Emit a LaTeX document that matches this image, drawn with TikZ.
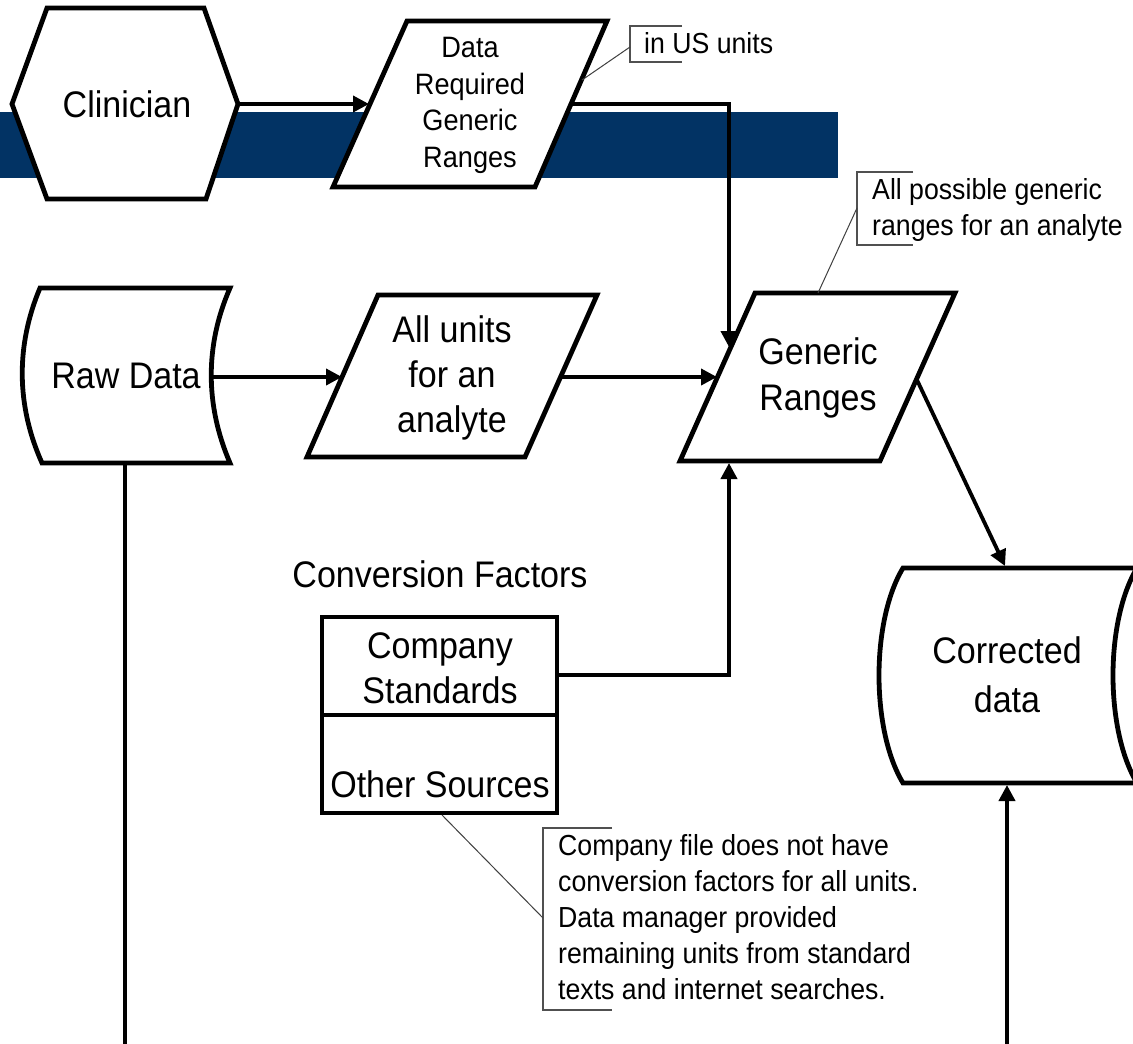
\documentclass[tikz,border=0pt]{standalone}
\usepackage{fontspec}
\setmainfont{Liberation Sans}[FakeStretch=0.92]
\usetikzlibrary{arrows.meta}
\definecolor{barblue}{RGB}{2,51,100}
\definecolor{callgray}{RGB}{80,80,80}
\tikzset{
  shp/.style={draw=black, fill=white, line width=4.8pt, line join=miter},
  conn/.style={draw=black, line width=3.8pt},
  arr/.style={conn, -{Triangle[length=16pt,width=16pt]}},
  big/.style={font=\fontsize{37}{46}\selectfont, align=center, inner sep=0pt, anchor=base},
  mid/.style={font=\fontsize{29.5}{36.5}\selectfont, align=center, inner sep=0pt, anchor=base},
  note/.style={font=\fontsize{29}{35.5}\selectfont, align=left, inner sep=0pt, anchor=base west},
  bracket/.style={draw=callgray, line width=1.2pt},
  leader/.style={draw=black!75, line width=1pt}
}
\begin{document}
\begin{tikzpicture}[x=1pt,y=-1pt]
\useasboundingbox (0,0) rectangle (1133,1044);
\fill[white] (0,0) rectangle (1133,1044);
% blue band
\fill[barblue] (0,112) rectangle (838,178);

% shapes
\draw[shp] (12,104) -- (47,8) -- (204,8) -- (238,104) -- (206,199) -- (47,199) -- cycle;
\draw[shp] (407,21) -- (607,21) -- (535,187) -- (333,187) -- cycle;
\draw[shp] (378,295) -- (597,295) -- (525,457) -- (307,457) -- cycle;
\draw[shp] (755,293) -- (955,293) -- (880,461) -- (680,461) -- cycle;
\draw[shp] (40,288) -- (230,288) .. controls (205,345) and (205,405) .. (230,463)
   -- (42,463) .. controls (16,405) and (16,345) .. (40,288) -- cycle;
\draw[shp] (903,568) -- (1137,568) .. controls (1105,621) and (1105,730) .. (1137,783)
   -- (903,783) .. controls (871,730) and (871,621) .. (903,568) -- cycle;
\draw[shp] (322,617) rectangle (557,813);
\draw[shp] (322,715) -- (557,715);

% labels (base anchor = baseline of the last line)
\node[big] (clin) at (127,117) {Clinician};
\node[mid] (dreq) at (470,167) {Data\\Required\\Generic\\Ranges};
\node[big] (raw) at (126,388) {Raw Data};
\node[big, font=\fontsize{37}{45}\selectfont] (units) at (452,432) {All units\\for an\\analyte};
\node[big] (gen) at (818,410) {Generic\\Ranges};
\node[big] (convt) at (440,587) {Conversion Factors};
\node[big, font=\fontsize{37}{45}\selectfont] (comp) at (440,703) {Company\\Standards};
\node[big] (other) at (440,797) {Other Sources};
\node[big, font=\fontsize{37}{49}\selectfont] (corr) at (1007,712) {Corrected\\data};

% connector end points
\coordinate (clinR) at (238,104);
\coordinate (dreqL) at (369,104);
\coordinate (dreqR) at (571,104);
\coordinate (bendA) at (729,104);
\coordinate (genT) at (729,347);
\coordinate (rawR) at (211,377);
\coordinate (unitsL) at (342,377);
\coordinate (unitsR) at (561,377);
\coordinate (genL) at (717,377);
\coordinate (compR) at (557,675);
\coordinate (bendB) at (729,675);
\coordinate (genB) at (729,463);
\coordinate (genR) at (917,380);
\coordinate (corrT) at (1005,566);
\coordinate (corrB) at (1007,785);
\coordinate (bottomR) at (1007,1044);
\coordinate (rawB) at (125,463);
\coordinate (bottomL) at (125,1044);

% connectors
\draw[arr] (clinR) -- (dreqL);
\draw[arr] (dreqR) -- (bendA) -- (genT);
\draw[arr] (rawR) -- (unitsL);
\draw[arr] (unitsR) -- (genL);
\draw[arr] (compR) -- (bendB) -- (genB);
\draw[arr] (genR) -- (corrT);
\draw[arr] (bottomR) -- (corrB);
\draw[conn] (rawB) -- (bottomL);

% callouts
\node[note] (us) at (644,53) {in US units};
\draw[bracket] (682,26) -- (630,26) -- (630,62) -- (682,62);
\coordinate (usL) at (630,47);
\coordinate (dreqE) at (582,80);
\draw[leader] (usL) -- (dreqE);

\node[note] (allposs) at (872,235) {All possible generic\\ranges for an analyte};
\draw[bracket] (913,172) -- (857,172) -- (857,245) -- (913,245);
\coordinate (apL) at (857,208);
\coordinate (genE) at (818,293);
\draw[leader] (apL) -- (genE);

\node[note, font=\fontsize{29}{36}\selectfont] (cnote) at (558,999) {Company file does not have\\conversion factors for all units.\\Data manager provided\\remaining units from standard\\texts and internet searches.};
\draw[bracket] (612,828) -- (543,828) -- (543,1010) -- (612,1010);
\coordinate (cnL) at (543,918);
\coordinate (otherE) at (442,815);
\draw[leader] (cnL) -- (otherE);
\end{tikzpicture}
\end{document}
